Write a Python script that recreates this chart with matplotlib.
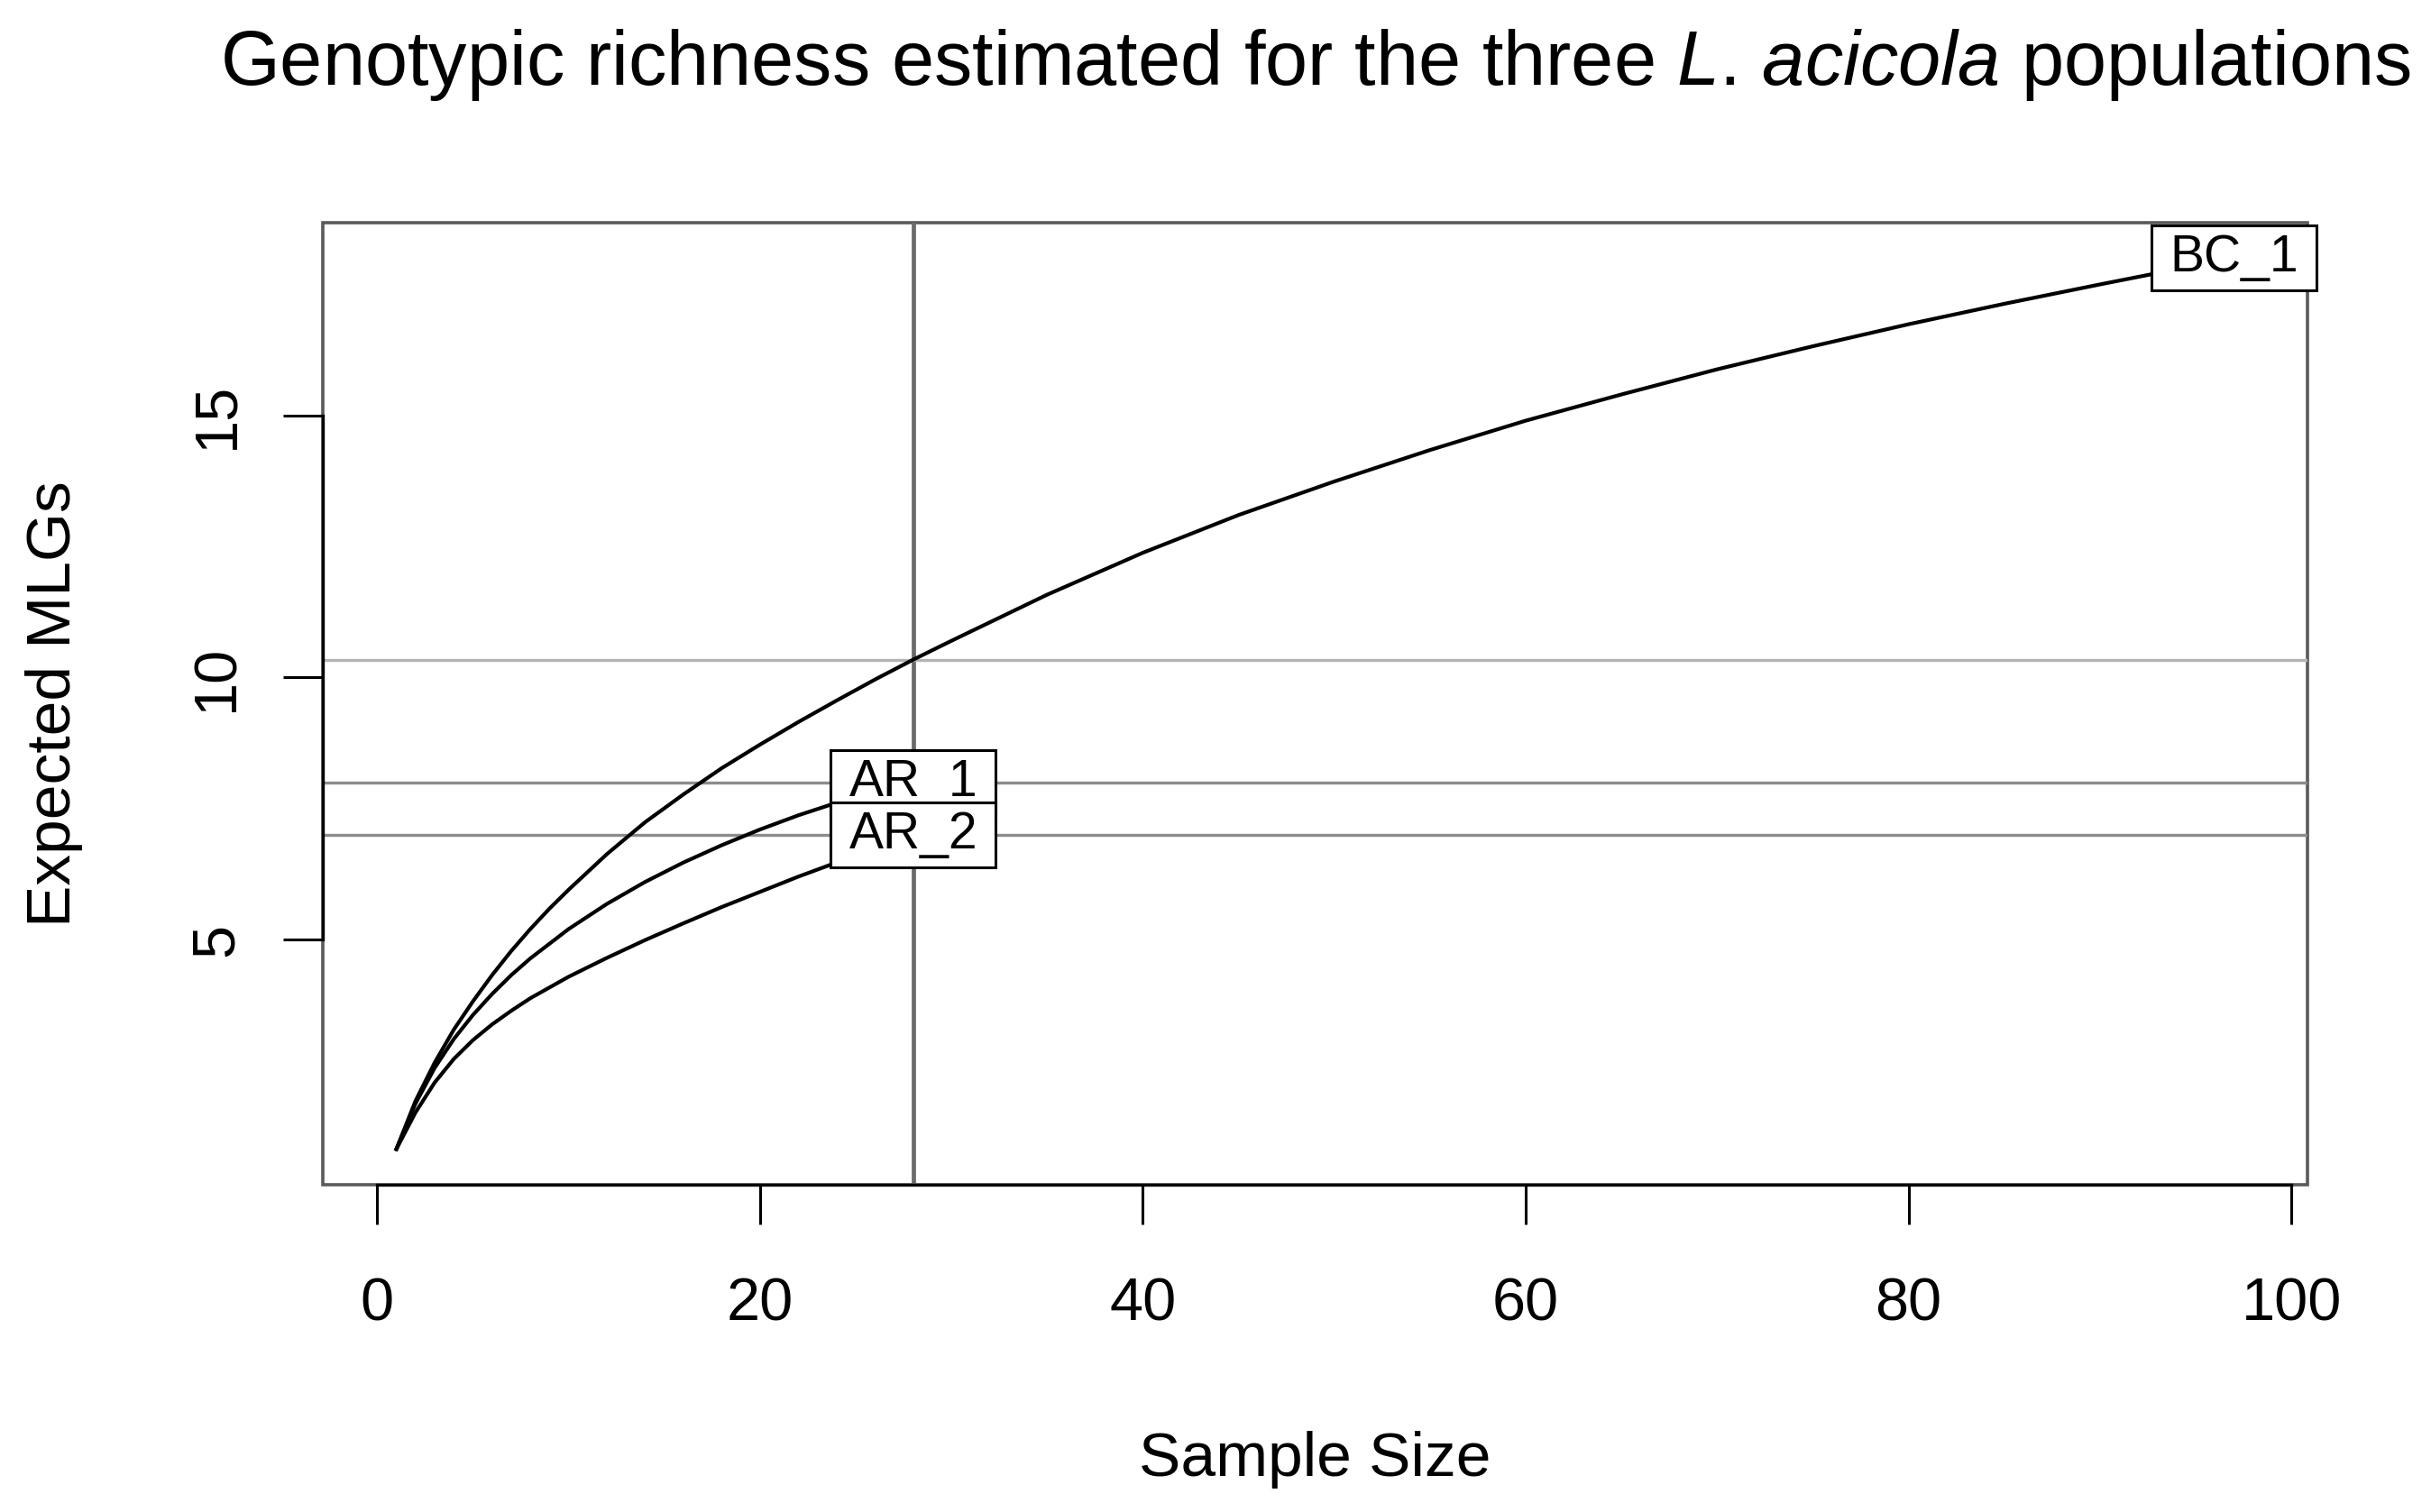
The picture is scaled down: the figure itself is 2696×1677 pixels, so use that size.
import matplotlib
matplotlib.use("Agg")
import matplotlib.pyplot as plt
from matplotlib.patches import Rectangle

plt.rcParams['font.family'] = ['Liberation Sans', 'DejaVu Sans']
plt.rcParams['mathtext.fontset'] = 'custom'
plt.rcParams['mathtext.rm'] = 'Liberation Sans'
plt.rcParams['mathtext.it'] = 'Liberation Sans:italic'

# rarefaction curves
bc1_n = [1, 2, 3, 4, 5, 6, 7, 8, 9, 10, 12, 14, 16, 18, 20, 22, 24, 26, 28, 30,
         35, 40, 45, 50, 55, 60, 65, 70, 75, 80, 85, 90, 95, 97]
bc1_mlg = [1.0, 1.92, 2.65, 3.28, 3.82, 4.32, 4.78, 5.2, 5.59, 5.95, 6.63, 7.24,
           7.77, 8.27, 8.72, 9.15, 9.56, 9.96, 10.34, 10.7, 11.58, 12.38, 13.1,
           13.74, 14.34, 14.9, 15.4, 15.88, 16.32, 16.74, 17.13, 17.5, 17.86, 18.0]

ar_n = [1, 2, 3, 4, 5, 6, 7, 8, 10, 12, 14, 16, 18, 20, 22, 24, 26, 28]
ar1_mlg = [1.0, 1.87, 2.55, 3.1, 3.56, 3.96, 4.32, 4.64, 5.2, 5.68, 6.1, 6.47,
           6.8, 7.1, 7.37, 7.61, 7.82, 8.0]
ar2_mlg = [1.0, 1.7, 2.27, 2.72, 3.08, 3.38, 3.64, 3.88, 4.29, 4.65, 4.99, 5.31,
           5.62, 5.91, 6.2, 6.47, 6.735, 7.0]

pop_names = ['BC_1', 'AR_1', 'AR_2']
min_sample = 28
rarefied = [10.34, 8.0, 7.0]

fig = plt.figure(figsize=(26.96, 16.77), dpi=100)
ax = fig.add_axes([0.1328, 0.2164, 0.8164, 0.6364])

# reference lines at the smallest sample size
ax.axvline(min_sample, color='#6a6a6a', lw=3.4, zorder=1)
ax.axhline(rarefied[0], color='#b4b4b4', lw=2.4, zorder=1)
ax.axhline(rarefied[1], color='#8c8c8c', lw=2.4, zorder=1)
ax.axhline(rarefied[2], color='#8c8c8c', lw=2.4, zorder=1)

curves = [(bc1_n, bc1_mlg), (ar_n, ar1_mlg), (ar_n, ar2_mlg)]
for (n, s), name in zip(curves, pop_names):
    ax.plot(n, s, color='black', lw=3.0, zorder=2, solid_joinstyle='round')
    ax.text(n[-1], s[-1], name, fontsize=41, ha='center', va='center', zorder=3,
            bbox=dict(boxstyle='square,pad=0.35', mutation_aspect=0.45,
                      fc='white', ec='black', lw=2.2))

ax.set_xlim(1 - 0.04 * 96, 97 + 0.04 * 96)
ax.set_ylim(1 - 0.04 * 17, 18 + 0.04 * 17)
ax.set_xticks([0, 20, 40, 60, 80, 100])
ax.set_yticks([5, 10, 15])

# R style: grey box, black axis lines only across tick range
for sp in ax.spines.values():
    sp.set_color('black')
    sp.set_linewidth(2.4)
ax.spines['top'].set_visible(False)
ax.spines['right'].set_visible(False)
ax.spines['bottom'].set_bounds(0, 100)
ax.spines['left'].set_bounds(5, 15)
ax.add_patch(Rectangle((0, 0), 1, 1, transform=ax.transAxes, fill=False,
                       ec='#5a5a5a', lw=2.6, clip_on=False, zorder=0.5))

ax.tick_params(axis='both', length=32, width=2.2, labelsize=48)
ax.tick_params(axis='x', pad=42)
ax.tick_params(axis='y', pad=30)
plt.setp(ax.get_yticklabels(), rotation=90, va='center')

ax.set_xlabel('Sample Size', fontsize=50)
ax.set_ylabel('Expected MLGs', fontsize=50)
ax.xaxis.set_label_coords(0.5, -0.286)
ax.xaxis.label.set_va('center')
ax.yaxis.set_label_coords(-0.1354, 0.5)
ax.yaxis.label.set_va('center')

fig.text(0.541, 1 - 72 / 1677,
         r'Genotypic richness estimated for the three $\mathit{L}$. $\mathit{acicola}$ populations',
         fontsize=61, ha='center', va='center')

fig.savefig('out.png', dpi=100)
